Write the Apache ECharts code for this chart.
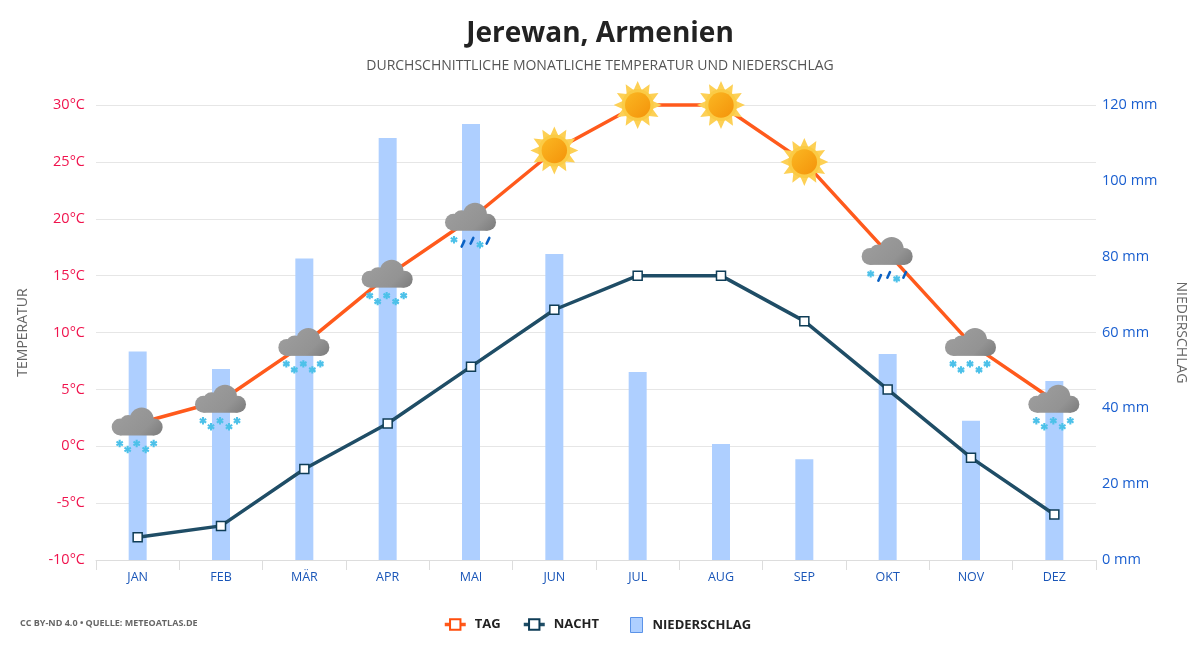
<!DOCTYPE html>
<html><head><meta charset="utf-8">
<script src="https://cdn.jsdelivr.net/npm/echarts@6/dist/echarts.min.js"></script>
<style>html,body{margin:0;padding:0;background:#fff}#c{width:1200px;height:650px}</style>
</head><body><div id="c"></div>
<script>
const months = ['JAN','FEB','MÄR','APR','MAI','JUN','JUL','AUG','SEP','OKT','NOV','DEZ'];
const dayTemp = [2,4,9,15,20,26,30,30,25,17,9,4];
const nightTemp = [-8,-7,-2,2,7,12,15,15,11,5,-1,-6];
const rainfall = [55,50.4,79.5,111.3,115,80.7,49.6,30.6,26.6,54.3,36.7,47.2];
const weather = ['snow','snow','snow','snow','mixed','sun','sun','sun','sun','mixed','snow','snow'];
const font = '"Open Sans","Noto Sans",sans-serif';

function star(x,y,c){
  let s='';
  for(let i=0;i<3;i++){
    const a=i*Math.PI/3+Math.PI/2, dx=Math.cos(a)*3.7, dy=Math.sin(a)*3.7;
    s+=`<line x1="${x-dx}" y1="${y-dy}" x2="${x+dx}" y2="${y+dy}" stroke="${c}" stroke-width="2.1"/>`;
  }
  return s;
}
function dash(x,y){return `<line x1="${x-1.3}" y1="${y+2.8}" x2="${x+1.3}" y2="${y-2.8}" stroke="#0b62c4" stroke-width="2.6" stroke-linecap="round"/>`;}
const cloud = `<defs><linearGradient id="g" gradientUnits="userSpaceOnUse" x1="-10" y1="-14" x2="18" y2="14"><stop offset="0" stop-color="#9b9b9b"/><stop offset="0.65" stop-color="#939393"/><stop offset="1" stop-color="#808080"/></linearGradient></defs>
<g fill="url(#g)"><circle cx="-17.5" cy="3.5" r="8.5"/><circle cx="-9.5" cy="0" r="8.5"/><circle cx="4" cy="-4" r="12"/><circle cx="16.5" cy="3.5" r="8.5"/><rect x="-17.5" y="0" width="34" height="12"/></g>`;
const snowIcon = cloud + [[-18,20],[-10,26],[-1,20],[8,26],[16,20]].map(p=>star(p[0],p[1],'#4dc1e9')).join('');
const mixedIcon = cloud + star(-17,21,'#4dc1e9')+dash(-8,25)+dash(1,22)+star(9,26,'#4dc1e9')+dash(17,22);
function sunIcon(){
  let pts=[];
  for(let i=0;i<24;i++){
    const a=i*Math.PI/12-Math.PI/2, r=i%2?15.5:24;
    pts.push((Math.cos(a)*r).toFixed(2)+','+(Math.sin(a)*r).toFixed(2));
  }
  return `<defs><linearGradient id="s" x1="0" y1="0" x2="1" y2="1"><stop offset="0" stop-color="#fbb722"/><stop offset="1" stop-color="#f4930a"/></linearGradient></defs>
<polygon points="${pts.join(' ')}" fill="#fdd055"/><circle r="16" fill="#fbcb45"/><circle r="12.7" fill="url(#s)"/>`;
}
function img(body){
  return 'image://data:image/svg+xml;charset=utf-8,'+encodeURIComponent(
   `<svg xmlns="http://www.w3.org/2000/svg" width="256" height="256" viewBox="-32 -32 64 64">${body}</svg>`);
}
const icons = {snow: img(snowIcon), mixed: img(mixedIcon), sun: img(sunIcon())};

const legendText = {color:'#222',fontFamily:font,fontSize:13,fontWeight:'bold',letterSpacing:1,padding:[0,0,0,4]};
const chart = echarts.init(document.getElementById('c'));
chart.setOption({
  animation:false,
  backgroundColor:'#fff',
  title:[
    {text:'Jerewan, Armenien',left:'center',top:15,textStyle:{fontFamily:font,fontSize:28,fontWeight:'bold',color:'#222'}},
    {text:'DURCHSCHNITTLICHE MONATLICHE TEMPERATUR UND NIEDERSCHLAG',left:'center',top:54,textStyle:{fontFamily:font,fontSize:14,fontWeight:'normal',color:'#555'}},
    {text:'CC BY-ND 4.0 • QUELLE: METEOATLAS.DE',left:15,top:614,textStyle:{fontFamily:font,fontSize:9,fontWeight:'bold',color:'#666',letterSpacing:0.15}}
  ],
  grid:{left:96,right:104,top:105,bottom:90,containLabel:false},
  legend:[
    {data:['TAG'],left:438,top:613,itemWidth:21,itemHeight:13,itemGap:0,lineStyle:{width:3.5},textStyle:legendText},
    {data:['NACHT'],left:517,top:613,itemWidth:21,itemHeight:13,itemGap:0,lineStyle:{width:3.5},textStyle:legendText},
    {data:[{name:'NIEDERSCHLAG',icon:'rect',itemStyle:{color:'#aecfff',borderColor:'#5b93e8',borderWidth:1}}],left:625,top:612,itemWidth:12,itemHeight:15,itemGap:0,textStyle:Object.assign({},legendText,{padding:[0,0,0,5]})}
  ],
  xAxis:{type:'category',data:months,boundaryGap:true,
    axisLine:{onZero:false,lineStyle:{color:'#ddd',width:1}},
    axisTick:{show:true,length:10,alignWithLabel:false,lineStyle:{color:'#ddd'}},
    axisLabel:{color:'#1a56b8',fontFamily:font,fontSize:12.5,margin:11}
  },
  yAxis:[
    {type:'value',min:-10,max:30,interval:5,position:'left',name:'TEMPERATUR',nameLocation:'middle',nameGap:66,nameRotate:90,
     nameTextStyle:{color:'#666',fontFamily:font,fontSize:14},
     axisLine:{show:false},axisTick:{show:false},
     axisLabel:{formatter:'{value}°C',color:'#f0134d',fontFamily:font,fontSize:14.5,margin:11,padding:[2,0,0,0]},
     splitLine:{lineStyle:{color:'#e6e6e6',width:1}}},
    {type:'value',min:0,max:120,interval:20,position:'right',name:'NIEDERSCHLAG',nameLocation:'middle',nameGap:78,nameRotate:-90,
     nameTextStyle:{color:'#666',fontFamily:font,fontSize:14},
     axisLine:{show:false},axisTick:{show:false},
     axisLabel:{formatter:'{value} mm',color:'#1a5fd0',fontFamily:font,fontSize:14.5,margin:6,padding:[2,0,0,0]},
     splitLine:{show:false}}
  ],
  series:[
    {name:'NIEDERSCHLAG',type:'bar',yAxisIndex:1,data:rainfall,barWidth:18,z:1,itemStyle:{color:'#aecfff'}},
    {name:'NACHT',type:'line',yAxisIndex:0,data:nightTemp,z:3,symbol:'rect',symbolSize:9,showAllSymbol:true,
     lineStyle:{color:'#1f4d66',width:3.5},
     itemStyle:{color:'#fff',borderColor:'#0f3d57',borderWidth:1.5}},
    {name:'TAG',type:'line',yAxisIndex:0,z:4,symbol:'rect',symbolSize:9,showAllSymbol:true,clip:false,
     data:dayTemp.map((v,i)=>({value:v,symbol:icons[weather[i]],symbolSize:64,symbolKeepAspect:true})),
     lineStyle:{color:'#ff5a1c',width:3.5},
     itemStyle:{color:'#fff',borderColor:'#ff4e0d',borderWidth:1.5}}
  ]
});
</script></body></html>
